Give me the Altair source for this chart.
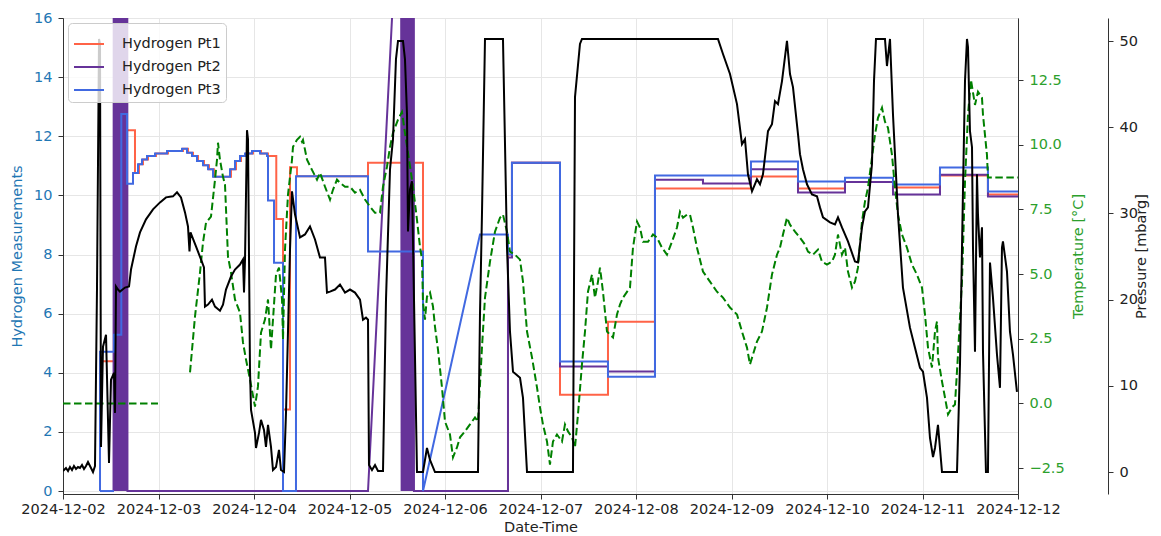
import altair as alt
import pandas as pd

START = pd.Timestamp("2024-12-02 00:00:00")

SERIES = ["Hydrogen Pt1", "Hydrogen Pt2", "Hydrogen Pt3"]
COLORS = ["#ff6347", "#663399", "#4169e1"]

# ---------------- Hydrogen Pt1 (hours since 2024-12-02 00:00, value) -------------
pt1_hours = [9.30, 14.50, 14.50, 18.09, 18.09, 19.10, 19.10, 20.10, 20.10, 21.36, 21.36, 23.37, 23.37,
             26.39, 26.39, 30.16, 30.16, 31.41, 31.41, 32.67, 32.67, 33.93, 33.93, 35.43, 35.43, 36.69,
             36.69, 37.95, 37.95, 42.22, 42.22, 43.47, 43.47, 44.73, 44.73, 45.99, 45.99, 47.75, 47.75,
             49.76, 49.76, 51.52, 51.52, 53.60, 53.60, 55.29, 55.29, 57.05, 57.05, 58.80, 58.80, 76.65,
             76.65, 90.47, 90.47, 111.83, 111.83, 112.83, 112.83, 124.90, 124.90, 136.96, 136.96, 148.77,
             148.77, 172.89, 172.89, 184.71, 184.71, 196.52, 196.52, 208.58, 208.58, 220.39, 220.39,
             232.45, 232.45, 240.0]
pt1_values = [4.39, 4.39, 12.2, 12.2, 10.76, 10.76, 11.05, 11.05, 11.21, 11.21, 11.33, 11.33, 11.42,
              11.42, 11.5, 11.5, 11.58, 11.58, 11.44, 11.44, 11.33, 11.33, 11.16, 11.16, 11.02, 11.02,
              10.88, 10.88, 10.63, 10.63, 10.88, 10.88, 11.16, 11.16, 11.33, 11.33, 11.42, 11.42, 11.5,
              11.5, 11.42, 11.42, 11.33, 11.33, 9.2, 9.2, 2.76, 2.76, 10.95, 10.95, 10.65, 10.65,
              11.1, 11.1, 0.0, 0.0, 8.0, 8.0, 11.1, 11.1, 3.26, 3.26, 5.73, 5.73,
              10.23, 10.23, 10.64, 10.64, 10.23, 10.23, 10.45, 10.45, 10.27, 10.27, 10.67,
              10.67, 10.03, 10.03]

# ---------------- Hydrogen Pt2 ----------------------------------------------------
pt2_hours = [12.70, 12.85, 13.00, 13.15, 13.30, 13.45, 13.60, 13.75, 13.90, 14.05, 14.20, 14.35, 14.50,
             14.85, 15.00, 15.15, 15.30, 15.45, 15.60, 15.75, 15.90, 16.05, 16.20,
             76.65, 84.95,
             85.10, 85.25, 85.40, 85.55, 85.70, 85.85, 86.00, 86.15, 86.30, 86.60, 86.75, 86.90, 87.05,
             87.20, 87.35, 87.50, 87.65, 87.80, 87.95, 88.10, 88.20,
             111.83, 111.83, 112.83, 112.83, 124.90, 124.90, 136.96, 136.96, 148.77, 148.77, 160.83,
             160.83, 172.89, 172.89, 184.71, 184.71, 196.52, 196.52, 208.58, 208.58, 220.39, 220.39,
             232.45, 232.45, 240.0]
pt2_values = [0, 60, 0, 60, 0, 60, 0, 60, 0, 60, 0, 60, 0,
              60, 0, 60, 0, 60, 0, 60, 0, 60, 0,
              0, 22,
              0, 60, 0, 60, 0, 60, 0, 60, 0, 60, 0, 60, 0,
              60, 0, 60, 0, 60, 0, 60, 0,
              0, 7.9, 7.9, 11.1, 11.1, 4.21, 4.21, 4.04, 4.04, 10.53, 10.53,
              10.4, 10.4, 10.88, 10.88, 10.1, 10.1, 10.45, 10.45, 10.03, 10.03, 10.7,
              10.7, 9.96, 9.96]

# ---------------- Hydrogen Pt3 ----------------------------------------------------
pt3_stub_hours = [9.30, 12.82]
pt3_stub_values = [0.0, 0.0]
pt3_hours = [9.30, 9.30, 12.82, 12.82, 14.65, 14.65, 16.08, 16.08, 17.59, 17.59, 18.85, 18.85, 19.85,
             19.85, 21.11, 21.11, 23.12, 23.12, 26.14, 26.14, 29.90, 29.90, 31.16, 31.16, 32.42, 32.42,
             33.67, 33.67, 35.18, 35.18, 36.44, 36.44, 37.70, 37.70, 41.97, 41.97, 43.22, 43.22, 44.48,
             44.48, 45.74, 45.74, 47.50, 47.50, 49.51, 49.51, 51.27, 51.27, 51.52, 51.52, 53.03, 53.03,
             55.29, 55.29, 58.55, 58.55, 76.65, 76.65, 90.47, 90.47, 104.79, 111.83, 111.83, 112.83,
             112.83, 124.90, 124.90, 136.96, 136.96, 148.77, 148.77, 172.89, 172.89, 184.71, 184.71,
             196.52, 196.52, 208.58, 208.58, 220.39, 220.39, 232.45, 232.45, 240.0]
pt3_values = [0.0, 4.71, 4.71, 5.29, 5.29, 12.75, 12.75, 10.39, 10.39, 10.76, 10.76, 11.05, 11.05,
              11.21, 11.21, 11.33, 11.33, 11.42, 11.42, 11.5, 11.5, 11.58, 11.58, 11.44, 11.44, 11.33,
              11.33, 11.16, 11.16, 11.02, 11.02, 10.88, 10.88, 10.63, 10.63, 10.88, 10.88, 11.16, 11.16,
              11.33, 11.33, 11.42, 11.42, 11.5, 11.5, 11.42, 11.42, 11.33, 11.33, 9.83, 9.83, 7.72,
              7.72, 0.0, 0.0, 10.65, 10.65, 8.1, 8.1, 0.0, 8.68, 8.68, 8.0, 8.0,
              11.1, 11.1, 4.38, 4.38, 3.87, 3.87, 10.67, 10.67, 11.15, 11.15, 10.47,
              10.47, 10.6, 10.6, 10.37, 10.37, 10.94, 10.94, 10.13, 10.13]

# ---------------- Temperature [°C] ------------------------------------------------
temp_flat_hours = [0.0, 23.87]
temp_flat_values = [0.0, 0.0]
temp_hours = [31.92, 33.17, 34.43, 35.18, 35.94, 37.19, 38.20, 38.70, 38.95, 39.45, 40.21, 40.71, 41.46,
              42.22, 43.22, 44.48, 45.23, 45.99, 46.99, 48.25, 49.00, 49.76, 50.76, 51.52, 52.27, 52.77,
              53.53, 54.28, 55.04, 55.29, 55.79, 56.54, 57.55, 57.80, 58.80, 59.56, 60.06, 60.31, 61.32,
              62.57, 63.83, 64.58, 65.84, 67.10, 67.85, 68.86, 69.61, 70.87, 72.12, 73.38, 74.64, 75.89,
              77.15, 78.41, 79.66, 80.42, 81.42, 82.18, 82.93, 84.19, 85.19, 85.94, 86.70, 87.96, 88.96,
              89.71, 90.22, 90.47, 90.97, 91.47, 92.23, 92.98, 93.48, 94.24, 95.24, 96.00, 97.25, 98.01,
              99.01, 99.77, 101.02, 102.28, 103.54, 104.29, 105.29, 106.05, 107.31, 108.56, 109.82,
              110.57, 111.58, 112.33, 113.59, 114.85, 115.60, 116.61, 117.86, 119.12, 119.87, 120.62,
              121.63, 122.38, 123.14, 124.14, 125.40, 126.15, 126.91, 127.91, 128.67, 129.42, 130.42,
              131.18, 131.93, 132.94, 133.69, 134.45, 134.95, 135.70, 136.71, 137.46, 138.22, 139.22,
              139.97, 140.73, 142.49, 143.24, 144.25, 145.00, 145.75, 147.01, 148.27, 149.27, 150.53,
              151.79, 153.04, 154.30, 155.05, 155.81, 156.81, 157.57, 158.32, 159.33, 160.83, 162.59,
              164.35, 165.86, 167.62, 169.38, 170.63, 171.89, 172.64, 173.40, 174.40, 175.66, 176.92,
              178.17, 179.43, 180.18, 180.94, 181.94, 182.70, 183.96, 185.21, 186.47, 187.22, 188.48,
              189.73, 190.74, 191.99, 193.25, 194.00, 194.76, 195.76, 196.52, 197.27, 198.28, 199.03,
              199.78, 200.79, 201.54, 202.30, 203.30, 204.06, 204.81, 205.82, 206.57, 207.32, 208.33,
              209.08, 209.84, 210.84, 212.10, 213.35, 214.61, 215.87, 216.62, 217.38, 218.38, 219.14,
              219.64, 219.89, 220.90, 221.65, 222.41, 223.41, 224.16, 224.92, 225.92, 226.68, 227.43,
              228.18, 229.19, 229.94, 230.95, 231.20, 232.20, 232.45, 240.0]
temp_values = [1.20, 3.36, 5.06, 6.22, 6.99, 7.22, 8.65, 9.42, 10.08, 9.42, 8.76, 8.46, 5.68,
               5.06, 4.02, 3.51, 2.36, 1.70, 0.93, -0.12, 0.66, 2.74, 3.24, 4.02, 2.08, 3.24,
               4.98, 5.25, 4.02, 2.47, 5.95, 8.07, 9.42, 9.92, 10.19, 10.31, 10.12, 10.19, 9.42,
               9.03, 8.65, 8.92, 8.38, 7.88, 8.26, 8.65, 8.53, 8.38, 8.38, 8.15, 8.26, 7.88,
               7.61, 7.37, 7.37, 8.38, 9.15, 9.92, 10.46, 10.97, 11.27, 10.46, 9.69, 8.38, 7.10,
               6.06, 5.56, 3.90, 3.24, 4.13, 4.29, 3.75, 2.97, 2.08, 0.62, -0.70, -1.20, -2.08,
               -1.70, -1.31, -1.08, -0.81, -0.54, -0.70, 2.16, 4.09, 5.48, 6.64, 7.18,
               7.30, 6.64, 5.87, 5.75, 5.56, 4.71, 2.78, 1.78, 0.62, -0.15, -0.81,
               -1.47, -2.36, -1.47, -1.20, -1.47, -0.81, -1.08, -1.31, -1.70, -0.42, 1.51,
               2.78, 4.32, 4.98, 4.09, 4.71, 5.25, 4.32, 2.78, 2.66, 2.55, 3.44,
               3.82, 4.09, 4.48, 6.02, 7.03, 6.80, 6.25, 6.25, 6.53, 6.41, 6.02,
               5.75, 6.25, 6.80, 7.41, 7.18, 7.30, 7.30, 6.80, 6.02, 5.10, 4.71,
               4.32, 4.09, 3.71, 3.44, 2.78, 2.16, 1.51, 1.89, 2.39, 2.78, 3.71,
               4.98, 5.75, 6.02, 6.53, 7.18, 6.91, 6.64, 6.41, 6.14, 5.87, 5.75,
               5.95, 5.48, 5.37, 5.48, 5.75, 6.53, 5.75, 6.02, 5.10, 4.48, 4.71,
               5.25, 7.03, 7.80, 8.34, 9.50, 10.39, 11.04, 11.43, 10.89, 10.66, 9.61,
               8.34, 7.30, 6.53, 6.02, 5.37, 4.98, 4.48, 3.44, 2.16, 1.39, 2.78,
               3.17, 1.78, 0.85, 0.23, -0.42, -0.15, -0.04, 1.89, 4.71, 8.57, 11.16,
               12.51, 11.54, 12.05, 11.81, 11.16, 9.61, 8.73, 8.73]

# ---------------- Pressure [mbarg] ------------------------------------------------
press_hours = [0.00, 0.75, 1.26, 1.76, 2.26, 2.76, 3.27, 3.77, 4.27, 4.77, 5.28, 5.78, 6.28, 7.04, 7.54,
               8.04, 8.54, 9.05, 9.30, 9.55, 10.05, 10.81, 11.56, 12.06, 12.82, 13.07, 13.32, 13.82,
               14.32, 15.58, 16.59, 17.09, 18.34, 19.35, 20.86, 22.62, 24.38, 25.88, 27.64, 28.65,
               29.65, 30.66, 31.41, 31.79, 32.04, 33.42, 34.68, 35.43, 35.68, 36.44, 37.44, 38.20,
               39.45, 40.21, 40.96, 42.22, 43.22, 44.48, 45.23, 45.49, 45.74, 46.24, 46.49, 46.99,
               47.25, 48.25, 48.50, 49.26, 49.76, 50.51, 51.01, 51.52, 52.27, 52.77, 53.53, 54.28,
               54.78, 55.54, 56.04, 57.05, 57.55, 58.30, 59.56, 60.81, 62.07, 63.33, 64.58, 65.84,
               66.34, 67.10, 68.35, 69.61, 70.87, 72.12, 73.38, 74.64, 75.39, 76.14, 76.65, 76.90,
               77.65, 78.41, 79.16, 80.42, 81.17, 82.18, 82.93, 83.68, 84.19, 85.44, 85.94, 86.45,
               86.70, 87.20, 87.70, 88.21, 88.96, 90.47, 91.47, 92.23, 93.48, 104.29, 104.79, 105.29,
               106.05, 110.57, 111.58, 112.33, 113.09, 114.85, 115.60, 116.61, 128.16, 128.67, 129.92,
               130.42, 164.60, 165.86, 167.62, 169.38, 170.63, 171.39, 172.14, 173.15, 174.40, 175.16,
               175.91, 177.17, 178.17, 178.93, 179.68, 180.69, 181.94, 182.70, 183.45, 184.71, 185.21,
               185.96, 186.97, 188.22, 189.48, 190.23, 190.99, 192.75, 194.00, 194.76, 195.76, 197.27,
               199.03, 199.78, 200.79, 201.54, 202.30, 203.30, 203.81, 204.31, 206.57, 207.07, 207.83,
               208.58, 209.84, 211.09, 212.85, 214.11, 215.37, 216.12, 217.13, 217.88, 218.64, 219.14,
               219.89, 220.90, 224.67, 225.42, 226.17, 226.68, 227.18, 227.43, 227.93, 228.44, 228.69,
               229.19, 229.69, 229.94, 230.45, 230.95, 231.20, 231.95, 232.45, 232.96, 233.71, 234.72,
               235.47, 235.97, 236.22, 237.23, 237.98, 238.74, 239.74]
press_values = [0.12, 0.47, 0.12, 0.58, 0.23, 0.70, 0.35, 0.58, 0.47, 0.81, 0.35, 0.70, 1.16, 0.47, 0.0,
                0.70, 21.17, 50.24, 49.66, 2.91, 14.54, 15.93, 1.05, 10.70, 11.51, 6.86, 21.52, 21.17,
                20.93, 21.40, 21.52, 23.49, 26.17, 27.80, 29.31, 30.47, 31.28, 31.86, 31.98, 32.45,
                31.86, 30.12, 28.49, 25.58, 27.80, 26.17, 24.66, 23.73, 19.19, 19.42, 20.00, 19.19,
                18.72, 19.42, 21.17, 22.68, 23.49, 24.07, 24.66, 20.82, 24.66, 39.66, 38.61, 11.86,
                7.21, 4.54, 2.79, 4.54, 6.05, 4.88, 2.91, 5.47, 2.91, 0.23, 0.58, 2.56,
                0.23, 0.0, 6.86, 25.82, 32.56, 29.89, 27.21, 27.56, 28.49, 26.98, 24.89, 24.89,
                20.82, 20.93, 21.17, 21.75, 20.82, 21.17, 20.82, 20.00, 17.67, 17.91, 17.67, 0.81,
                0.23, 0.81, 0.12, 0.12, 20.00, 35.12, 38.61, 47.91, 50.01, 50.01, 47.91, 41.51,
                27.91, 32.79, 33.72, 20.00, 0.0, 0.0, 2.79, 1.40, 0.0, 0.0, 18.26, 29.89,
                50.24, 50.24, 26.05, 16.28, 11.63, 10.93, 8.60, 0.0, 0.0, 43.50, 49.66,
                50.24, 50.24, 48.50, 46.17, 42.68, 38.03, 38.61, 34.54, 32.56, 33.96, 33.38,
                34.54, 39.54, 40.35, 43.03, 42.68, 45.35, 50.01, 46.17, 44.66, 39.19, 36.87,
                35.12, 33.38, 32.21, 31.98, 30.70, 29.54, 28.96, 28.72, 29.54, 28.38, 26.75,
                24.42, 24.31, 28.38, 30.24, 30.70, 35.70, 45.35, 50.24, 50.24, 47.10, 50.24,
                41.51, 29.89, 21.40, 16.75, 14.42, 12.09, 11.63, 8.60, 3.95, 1.74, 2.79,
                5.47, 0.0, 0.0, 12.44, 32.56, 45.35, 50.24, 49.31, 39.54, 37.68, 26.05,
                13.96, 34.54, 29.89, 24.89, 28.38, 13.96, 0.0, 0.0, 24.31, 20.23, 13.61,
                9.77, 26.05, 26.75, 23.26, 16.28, 13.61, 9.30]

# tick values
x_days = list(range(2, 13))
h2_ticks = [0, 2, 4, 6, 8, 10, 12, 14, 16]
temp_ticks = [-2.5, 0.0, 2.5, 5.0, 7.5, 10.0, 12.5]
press_ticks = [0, 10, 20, 30, 40, 50]


def frame(hours, values, name, seg):
    return pd.DataFrame({
        "t": START + pd.to_timedelta(hours, unit="h"),
        "v": values,
        "series": name,
        "seg": seg,
        "i": list(range(len(hours))),
    })


h2_df = pd.concat([
    frame(pt1_hours, pt1_values, SERIES[0], "a"),
    frame(pt2_hours, pt2_values, SERIES[1], "a"),
    frame(pt3_stub_hours, pt3_stub_values, SERIES[2], "a"),
    frame(pt3_hours, pt3_values, SERIES[2], "b"),
], ignore_index=True)
temp_df = pd.concat([
    frame(temp_flat_hours, temp_flat_values, "Temperature", "a"),
    frame(temp_hours, temp_values, "Temperature", "b"),
], ignore_index=True)
press_df = frame(press_hours, press_values, "Pressure", "a")

FS = 14.5
SPINE = "#333333"
x_enc = alt.X(
    "t:T",
    title="Date-Time",
    scale=alt.Scale(domain=[alt.DateTime(year=2024, month=12, date=2),
                            alt.DateTime(year=2024, month=12, date=12)], nice=False),
    axis=alt.Axis(values=[alt.DateTime(year=2024, month=12, date=d) for d in x_days],
                  format="%Y-%m-%d", labelFontSize=FS, titleFontSize=FS, labelColor="#222222",
                  titleColor="#222222", grid=True, gridColor="#e6e6e6", domainColor=SPINE,
                  tickColor=SPINE, tickSize=5, labelPadding=3, titlePadding=5,
                  labelFlush=False, labelOverlap=False, titleFontWeight="normal"),
)

h2 = alt.Chart(h2_df).mark_line(strokeWidth=2, clip=True).encode(
    x=x_enc,
    y=alt.Y("v:Q", title="Hydrogen Measurements",
            scale=alt.Scale(domain=[-0.1, 16], nice=False, zero=False),
            axis=alt.Axis(orient="left", values=h2_ticks, labelFontSize=FS, titleFontSize=FS,
                          labelColor="#1f77b4", titleColor="#1f77b4", grid=True, gridColor="#e6e6e6",
                          domainColor=SPINE, tickColor=SPINE, tickSize=5, labelPadding=6,
                          titlePadding=9, titleFontWeight="normal")),
    color=alt.Color("series:N", scale=alt.Scale(domain=SERIES, range=COLORS),
                    legend=alt.Legend(title=None, orient="top-left", offset=5, symbolType="stroke",
                                      symbolSize=900, symbolStrokeWidth=2, labelFontSize=FS,
                                      labelColor="#222222", padding=5, rowPadding=-8, labelOffset=17,
                                      fillColor="rgba(255,255,255,0.8)", strokeColor="#cccccc",
                                      cornerRadius=4, labelLimit=300)),
    detail="seg:N",
    order="i:Q",
)

temp = alt.Chart(temp_df).mark_line(color="green", strokeWidth=2, strokeDash=[7.5, 3.5], clip=True).encode(
    x=x_enc,
    y=alt.Y("v:Q", title="Temperature [°C]",
            scale=alt.Scale(domain=[-3.5, 14.9], nice=False, zero=False),
            axis=alt.Axis(orient="right", values=temp_ticks, format=".1f", labelFontSize=FS,
                          titleFontSize=FS, labelColor="#2ca02c", titleColor="#2ca02c", grid=False,
                          domainColor=SPINE, tickColor=SPINE, tickSize=5, labelPadding=6,
                          titlePadding=21, titleAngle=270, titleFontWeight="normal")),
    detail="seg:N",
    order="i:Q",
)

press = alt.Chart(press_df).mark_line(color="black", strokeWidth=2, clip=True).encode(
    x=x_enc,
    y=alt.Y("v:Q", title="Pressure [mbarg]",
            scale=alt.Scale(domain=[-2.55, 52.67], nice=False, zero=False),
            axis=alt.Axis(orient="right", offset=90, values=press_ticks, labelFontSize=FS,
                          titleFontSize=FS, labelColor="#222222", titleColor="#222222", grid=False,
                          domainColor=SPINE, tickColor=SPINE, tickSize=5, labelPadding=6,
                          titlePadding=11, titleAngle=270, titleFontWeight="normal")),
    order="i:Q",
)

chart = alt.layer(h2, temp, press).resolve_scale(y="independent").properties(
    width=955,
    height=476,
    autosize=alt.AutoSizeParams(type="none"),
    padding={"left": 55, "top": 10, "right": 135, "bottom": 42},
).configure(font="DejaVu Sans").configure_view(stroke=SPINE, strokeWidth=1)

chart.save("out.html", embed_options={"renderer": "svg", "actions": False})
